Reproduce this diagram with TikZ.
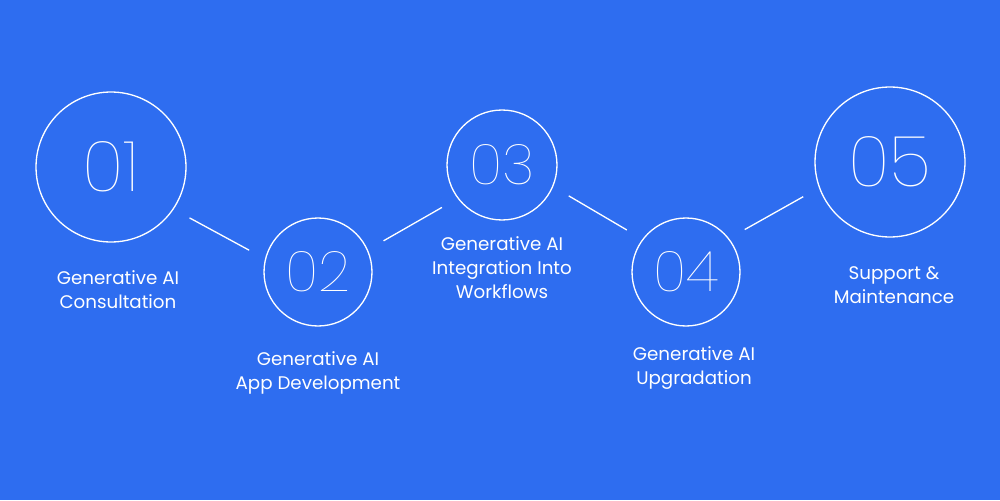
\documentclass[tikz,border=0pt]{standalone}
\usepackage{fontspec}
\setmainfont{Poppins}
\newfontfamily\thinfont{Poppins Thin}
\definecolor{bgblue}{HTML}{2E6DF0}
\begin{document}
\begin{tikzpicture}[x=0.02cm,y=-0.02cm,
  ring/.style={draw=white,line width=0.75pt,circle,inner sep=0pt,text=white},
  bignum/.style={font=\thinfont\fontsize{40}{40}\selectfont},
  smallnum/.style={font=\thinfont\fontsize{32}{32}\selectfont},
  caption/.style={text=white,align=center,font=\fontsize{10.4}{13.6}\selectfont},
  link/.style={draw=white,line width=0.75pt,shorten <=0.36cm,shorten >=0.36cm}]
\fill[bgblue] (0,0) rectangle (1000,500);
% circles
\node[ring,bignum,minimum size=3cm] (s1) at (111,167) {01};
\node[ring,smallnum,minimum size=2.16cm] (s2) at (318,272) {02};
\node[ring,smallnum,minimum size=2.2cm] (s3) at (502,165) {03};
\node[ring,smallnum,minimum size=2.16cm] (s4) at (686,272) {04};
\node[ring,bignum,minimum size=3cm] (s5) at (890,162) {05};
% captions
\node[caption] (t1) at (118,290) {Generative AI\\Consultation};
\node[caption] (t2) at (318,373) {Generative AI\\App Development};
\node[caption] (t3) at (502,268) {Generative AI\\Integration Into\\Workflows};
\node[caption] (t4) at (694,368) {Generative AI\\Upgradation};
\node[caption] (t5) at (894,285) {Support \&\\Maintenance};
% links
\draw[link] (s1.-34) -- (s2.166);
\draw[link] (s2.24) -- (s3.217);
\draw[link] (s3.-23) -- (s4.143);
\draw[link] (s4.38) -- (s5.200);
\end{tikzpicture}
\end{document}
